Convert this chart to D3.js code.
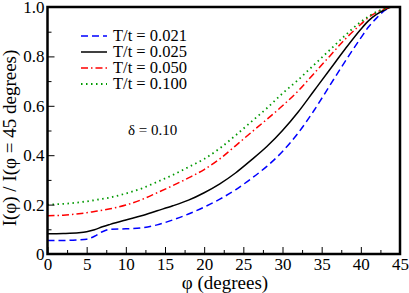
<!DOCTYPE html>
<html><head><meta charset="utf-8">
<script src="https://cdn.jsdelivr.net/npm/d3@7"></script>
<style>body{margin:0;background:#fff}svg{display:block}</style>
</head><body><svg id="c" width="409" height="293"></svg>
<script>
const phi  = [0,2,4,5,6,7,8,10,12,14,16,18,20,22,24,26,28,30,32,34,36,38,40,41,42,43,44,45];
const s021 = [0.055,0.055,0.057,0.060,0.072,0.090,0.100,0.102,0.106,0.118,0.138,0.162,0.190,0.222,0.260,0.305,0.355,0.415,0.490,0.580,0.680,0.780,0.875,0.920,0.955,0.985,1.0,1.0];
const s025 = [0.082,0.083,0.086,0.090,0.098,0.110,0.120,0.138,0.155,0.175,0.195,0.218,0.248,0.284,0.328,0.380,0.435,0.500,0.575,0.660,0.745,0.830,0.910,0.945,0.970,0.988,1.0,1.0];
const s050 = [0.155,0.157,0.163,0.167,0.172,0.177,0.183,0.198,0.220,0.248,0.277,0.308,0.342,0.385,0.438,0.492,0.545,0.600,0.660,0.730,0.800,0.870,0.930,0.958,0.978,0.992,1.0,1.0];
const s100 = [0.200,0.203,0.209,0.213,0.218,0.223,0.229,0.245,0.265,0.292,0.320,0.352,0.385,0.428,0.480,0.535,0.590,0.650,0.705,0.765,0.825,0.885,0.940,0.962,0.980,0.993,1.0,1.0];
const legendLabels = ["T/t = 0.021","T/t = 0.025","T/t = 0.050","T/t = 0.100"];
const xTicks = [0,5,10,15,20,25,30,35,40,45];
const yTicks = [0,0.2,0.4,0.6,0.8,1.0];

const FONT = "'Liberation Serif','Times New Roman','DejaVu Serif',serif";
const svg = d3.select("#c");
const L=47.5,R=400,T=7,B=254;
const x = d3.scaleLinear().domain([0,45]).range([L,R]);
const y = d3.scaleLinear().domain([0,1]).range([B,T]);

const series = [
  {v:s021,color:"#0000ff",dash:"7,4",w:1.5},
  {v:s025,color:"#000000",dash:null,w:1.5},
  {v:s050,color:"#ff0000",dash:"7,3,1.5,3",w:1.5},
  {v:s100,color:"#009900",dash:"1.5,3.5",w:1.8}
];
const line = d3.line().x((d,i)=>x(phi[i])).y(d=>y(d)).curve(d3.curveMonotoneX);
svg.append("defs").append("clipPath").attr("id","cp").append("rect").attr("x",L).attr("y",T-1).attr("width",R-L).attr("height",B-T+1);
series.forEach(s=>{
  svg.append("path").attr("d",line(s.v)).attr("fill","none").attr("stroke",s.color)
   .attr("stroke-width",s.w).attr("stroke-dasharray",s.dash).attr("clip-path","url(#cp)");
});

const xa = d3.axisBottom(x).tickValues(xTicks).tickSize(-7).tickPadding(4).tickFormat(d3.format("d"));
const xm = d3.axisBottom(x).tickValues(d3.range(2.5,45,5)).tickSize(-4).tickFormat("");
const ya = d3.axisLeft(y).tickValues(yTicks).tickSize(-7).tickPadding(3).tickFormat(d=>d===0?"0":d3.format(".1f")(d));
const ym = d3.axisLeft(y).tickValues(d3.range(0.1,1,0.2)).tickSize(-4).tickFormat("");
[[xa,"b"],[xm,"b"],[ya,"l"],[ym,"l"]].forEach(([a,k])=>{
  const gg = svg.append("g").attr("transform",k==="b"?`translate(0,${B})`:`translate(${L},0)`).call(a);
  gg.attr("font-family",null).attr("font-size",null);
  gg.select(".domain").remove();
  gg.selectAll("line").attr("stroke","#000").attr("stroke-width",1);
  gg.selectAll("text").style("font-family",FONT).style("font-size","17px").attr("fill","#000");
});
svg.append("rect").attr("x",L).attr("y",T).attr("width",R-L).attr("height",B-T)
  .attr("fill","none").attr("stroke","#000").attr("stroke-width",2.5);

svg.append("text").attr("x",225).attr("y",289).attr("text-anchor","middle")
  .style("font-family",FONT).style("font-size","19px").text("φ (degrees)");
svg.append("text").attr("transform","translate(16,138) rotate(-90)").attr("text-anchor","middle")
  .style("font-family",FONT).style("font-size","19px").text("I(φ) / I(φ = 45 degrees)");

const ly0 = 36, ldy = 16;
series.forEach((s,i)=>{
  const yy = ly0+i*ldy;
  svg.append("line").attr("x1",81).attr("x2",107).attr("y1",yy).attr("y2",yy)
    .attr("stroke",s.color).attr("stroke-width",s.w).attr("stroke-dasharray",s.dash);
  svg.append("text").attr("x",113).attr("y",yy+5).style("font-family",FONT).style("font-size","16.5px").text(legendLabels[i]);
});
svg.append("text").attr("x",128).attr("y",135).style("font-family",FONT).style("font-size","15px").text("δ = 0.10");
</script></body></html>
